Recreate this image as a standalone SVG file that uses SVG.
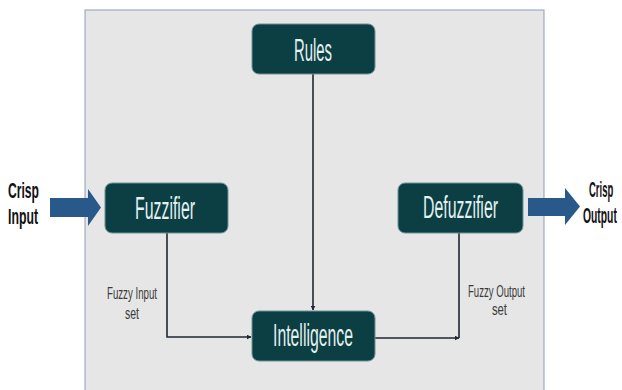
<svg xmlns="http://www.w3.org/2000/svg" width="622" height="390" viewBox="0 0 622 390">
  <defs>
    <style>
      .node rect { fill: #0C3F43; stroke: #6E9494; stroke-width: 1; }
      .node text { fill: #E4F1F1; font-family: "Liberation Sans", Arial, sans-serif; font-size: 31px; }
      .conn { fill: none; stroke: #1E2733; stroke-width: 1.6; }
      .lbl { fill: #3A3A3A; font-family: "Liberation Sans", Arial, sans-serif; font-size: 17px; }
      .io { fill: #111111; font-family: "Liberation Sans", Arial, sans-serif; font-size: 22px; font-weight: bold; }
      .bigarrow { fill: #29598A; }
    </style>
    <marker id="ah" viewBox="0 0 10 10" refX="9" refY="5" markerWidth="5" markerHeight="5" orient="auto" markerUnits="userSpaceOnUse">
      <path d="M0,0 L10,5 L0,10 z" fill="#1E2733"/>
    </marker>
  </defs>

  <rect x="0" y="0" width="622" height="390" fill="#FFFFFF"/>
  <rect id="panel" x="85" y="10" width="459" height="390" fill="#E6E6E6" stroke="#8D9DBD" stroke-width="1"/>

  <g id="connectors">
    <line class="conn" x1="313" y1="74" x2="313" y2="310" marker-end="url(#ah)"/>
    <polyline class="conn" points="167,233 167,337 251,337" marker-end="url(#ah)"/>
    <polyline class="conn" points="375,338 459,338" marker-end="url(#ah)"/>
    <line class="conn" x1="459" y1="338" x2="459" y2="233"/>
    <path id="input-arrow" class="bigarrow" d="M50,198 L88,198 L88,189 L101,207.5 L88,226 L88,217 L50,217 z"/>
    <path id="output-arrow" class="bigarrow" d="M528,198 L565,198 L565,188 L580,206.5 L565,225 L565,216 L528,216 z"/>
  </g>

  <g id="rules" class="node">
    <rect x="252" y="24" width="123" height="50" rx="7"/>
    <text x="294" y="61" textLength="38" lengthAdjust="spacingAndGlyphs">Rules</text>
  </g>
  <g id="fuzzifier" class="node">
    <rect x="105" y="183" width="123" height="50" rx="7"/>
    <text x="135" y="219" textLength="60" lengthAdjust="spacingAndGlyphs">Fuzzifier</text>
  </g>
  <g id="defuzzifier" class="node">
    <rect x="398" y="183" width="125" height="50" rx="7"/>
    <text x="423" y="218" textLength="75" lengthAdjust="spacingAndGlyphs">Defuzzifier</text>
  </g>
  <g id="intelligence" class="node">
    <rect x="252" y="311" width="123" height="50" rx="7"/>
    <text x="273" y="346" textLength="80" lengthAdjust="spacingAndGlyphs">Intelligence</text>
  </g>

  <g id="labels">
    <text class="io" x="8" y="198" textLength="31" lengthAdjust="spacingAndGlyphs">Crisp</text>
    <text class="io" x="8" y="224" textLength="30" lengthAdjust="spacingAndGlyphs">Input</text>
    <text class="io" transform="translate(589,197) scale(0.43,1)">Crisp</text>
    <text class="io" transform="translate(583,223) scale(0.47,1)">Output</text>
    <text class="lbl" x="107" y="299" textLength="50" lengthAdjust="spacingAndGlyphs">Fuzzy Input</text>
    <text class="lbl" x="125" y="319" textLength="14" lengthAdjust="spacingAndGlyphs">set</text>
    <text class="lbl" x="468" y="297" textLength="57" lengthAdjust="spacingAndGlyphs">Fuzzy Output</text>
    <text class="lbl" x="492" y="315" textLength="15" lengthAdjust="spacingAndGlyphs">set</text>
  </g>
</svg>
